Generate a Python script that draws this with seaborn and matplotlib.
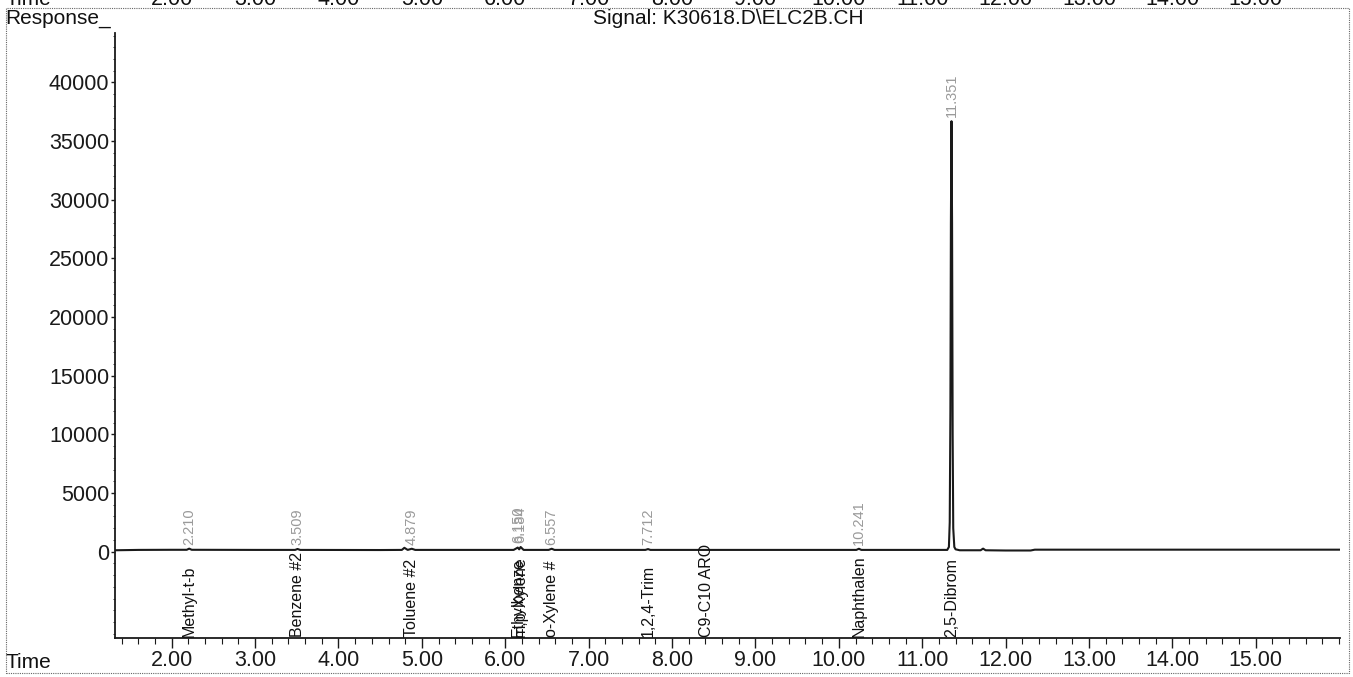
import matplotlib
matplotlib.use("Agg")
import matplotlib.pyplot as plt
import matplotlib.transforms as mtransforms
from matplotlib.patches import Rectangle
from matplotlib.ticker import MultipleLocator, FixedLocator, FormatStrFormatter
import pandas as pd
import seaborn as sns

# ---- data ----
time_min = [1.32, 1.60, 2.00, 2.18, 2.21, 2.24, 3.00, 3.48, 3.509, 3.54,
            4.50, 4.76, 4.79, 4.83, 4.879, 4.92, 6.10, 6.150, 6.167, 6.184,
            6.22, 6.52, 6.557, 6.59, 7.68, 7.712, 7.74, 10.21, 10.241, 10.27,
            11.300, 11.320, 11.330, 11.338, 11.344, 11.351, 11.358, 11.365,
            11.372, 11.385, 11.400, 11.450, 11.700, 11.730, 11.760, 12.000,
            12.300, 12.350, 13.000, 14.000, 15.000, 16.010]
response = [120, 150, 160, 160, 260, 160, 150, 150, 230, 150,
            140, 150, 330, 150, 250, 150, 150, 350, 200, 400,
            150, 150, 250, 150, 150, 220, 150, 150, 250, 150,
            150, 400, 2500, 12000, 28000, 36700, 28000, 10000,
            2000, 400, 200, 120, 120, 260, 120, 100,
            100, 170, 170, 170, 170, 170]

compound_names = ["Methyl-t-b", "Benzene #2", "Toluene #2", "Ethylbenze",
                  "m,p-Xylene", "o-Xylene #", "1,2,4-Trim", "C9-C10 ARO",
                  "Naphthalen", "2,5-Dibrom"]
compound_times = [2.210, 3.509, 4.879, 6.150, 6.184, 6.557, 7.712, 8.41,
                  10.241, 11.351]

peak_rt_labels = ["2.210", "3.509", "4.879", "6.150", "6.184", "6.557",
                  "7.712", "10.241", "11.351"]
peak_rt_times = [2.210, 3.509, 4.879, 6.150, 6.184, 6.557, 7.712, 10.241, 11.351]
peak_apex = [260, 230, 250, 350, 400, 250, 220, 250, 36700]

y_ticks = [0, 5000, 10000, 15000, 20000, 25000, 30000, 35000, 40000]
x_ticks = [2, 3, 4, 5, 6, 7, 8, 9, 10, 11, 12, 13, 14, 15]

signal_title = "Signal: K30618.D\\ELC2B.CH"

# ---- style ----
sns.set_style("ticks")
plt.rcParams["font.family"] = ["Liberation Sans", "DejaVu Sans"]

W, H = 1353, 677
fig = plt.figure(figsize=(W / 100, H / 100), dpi=100)
ax = fig.add_axes([115 / W, 1 - 638 / H, (1340 - 115) / W, (638 - 33) / H])

df = pd.DataFrame({"Time": time_min, "Response": response})
sns.lineplot(data=df, x="Time", y="Response", ax=ax, color="#1a1a1a",
             linewidth=1.5, sort=True, estimator=None)

ax.set_xlim(1.32, 16.01)
ax.set_ylim(-7360, 44220)
ax.set_xlabel("")
ax.set_ylabel("")

for s in ["top", "right"]:
    ax.spines[s].set_visible(False)
for s in ["left", "bottom"]:
    ax.spines[s].set_linewidth(1.3)
    ax.spines[s].set_color("#1a1a1a")

ax.xaxis.set_major_locator(FixedLocator(x_ticks))
ax.xaxis.set_minor_locator(MultipleLocator(0.2))
ax.xaxis.set_major_formatter(FormatStrFormatter("%.2f"))
ax.yaxis.set_major_locator(FixedLocator(y_ticks))
ax.yaxis.set_minor_locator(MultipleLocator(1000))

ax.tick_params(axis="x", which="major", direction="out", length=7, width=1,
               pad=2, labelsize=15.5, colors="#1a1a1a")
ax.tick_params(axis="x", which="minor", direction="out", length=4, width=0.8,
               colors="#1a1a1a")
ax.tick_params(axis="y", which="major", direction="out", length=3, width=1,
               pad=1, labelsize=15.5, colors="#1a1a1a")
ax.tick_params(axis="y", which="minor", direction="out", length=1.5, width=0.6,
               colors="#1a1a1a")

# compound names (below baseline, rotated)
ymin = ax.get_ylim()[0]
for name, t in zip(compound_names, compound_times):
    ax.text(t, ymin + 60, name, rotation=90, ha="center", va="bottom",
            fontsize=11.5, color="#111111")

# retention time labels above peaks
for lab, t, h in zip(peak_rt_labels, peak_rt_times, peak_apex):
    ax.text(t, h + 350, lab, rotation=90, ha="center", va="bottom",
            fontsize=10.5, color="#9a9a9a")

# header texts
fig.text(5 / W, 1 - 9 / H, "Response_", ha="left", va="top", fontsize=15,
         color="#111111")
fig.text(728 / W, 1 - 9 / H, signal_title, ha="center", va="top",
         fontsize=15, color="#111111")
fig.text(5 / W, 5 / H, "Time", ha="left", va="bottom", fontsize=15,
         color="#111111")

# cut-off axis labels of the panel above
trans = mtransforms.blended_transform_factory(ax.transData, fig.transFigure)
fig.text(5 / W, 1 - 5 / H, "Time", ha="left", va="baseline", fontsize=15,
         color="#111111")
for t in x_ticks:
    fig.text(t, 1 - 5 / H, f"{t:.2f}", ha="center", va="baseline",
             fontsize=15.5, color="#111111", transform=trans)

# dotted page frame
fig.add_artist(Rectangle((6 / W, 4 / H), (1349 - 6) / W, (669 - 4) / H,
                         transform=fig.transFigure, fill=False,
                         linestyle=(0, (1, 1)), linewidth=0.8,
                         edgecolor="#666666"))

fig.savefig("out.png", dpi=100)
